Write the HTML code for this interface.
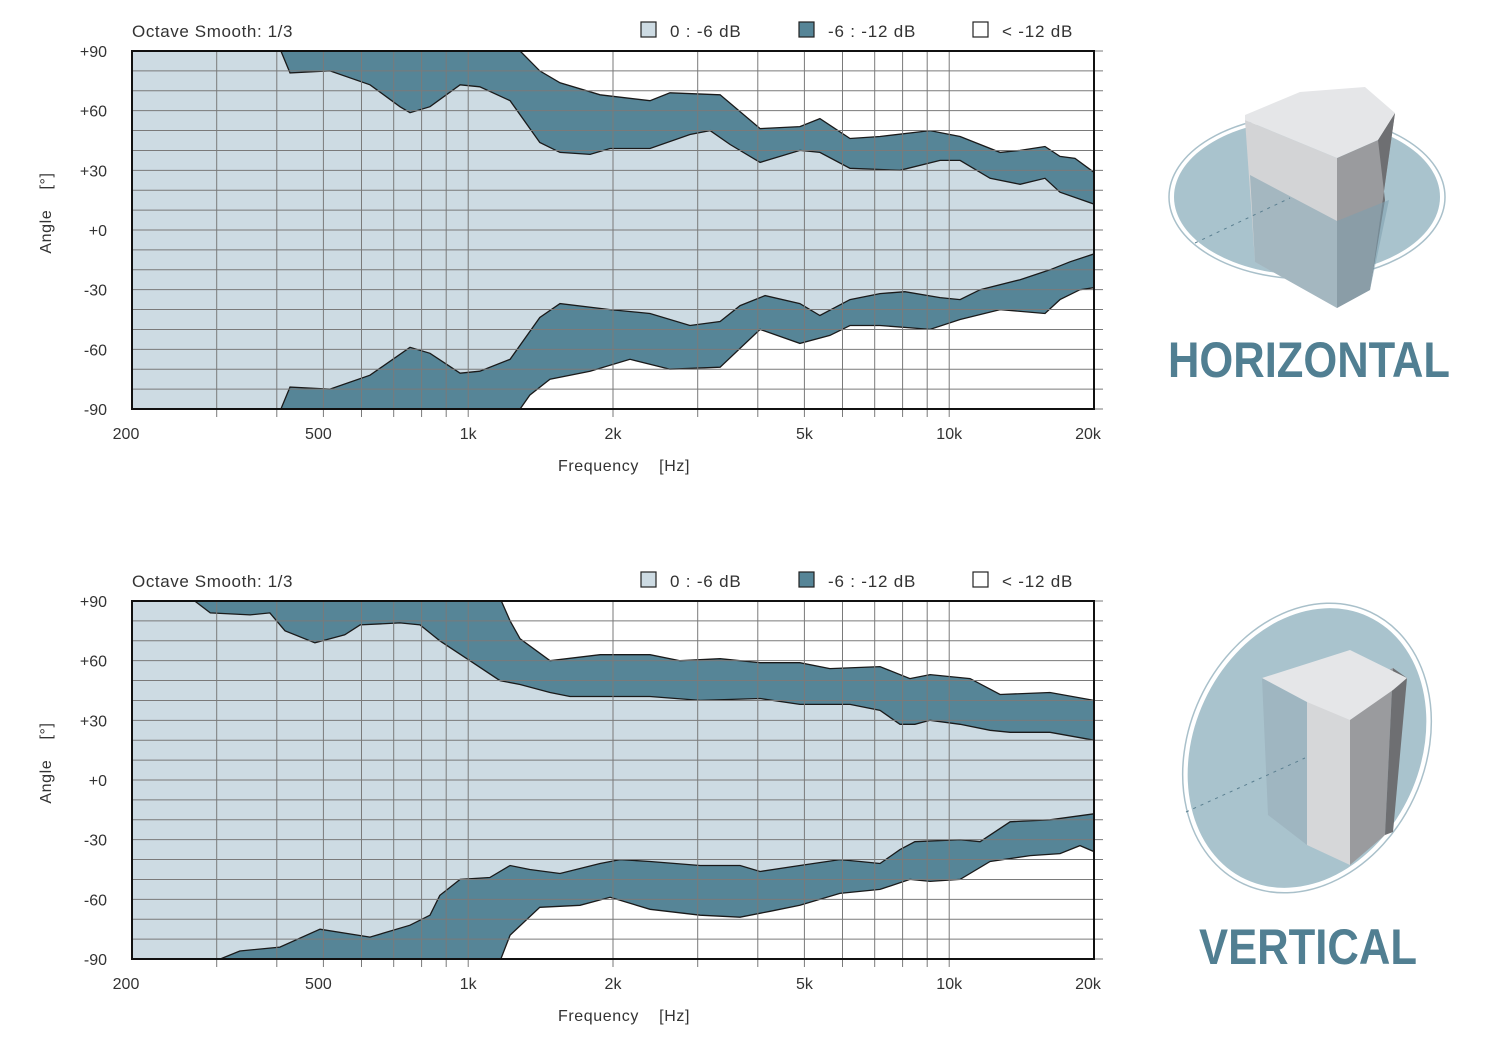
<!DOCTYPE html>
<html><head><meta charset="utf-8"><style>
body{margin:0;background:#fff;}
svg{display:block;font-family:"Liberation Sans",sans-serif;}
.pre{white-space:pre;}
</style></head><body>
<svg id="root" width="1510" height="1061" viewBox="0 0 1510 1061">
<defs>
<clipPath id="clipH"><rect x="132" y="51" width="962" height="358"/></clipPath>
<clipPath id="clipV"><rect x="132" y="601" width="962" height="358"/></clipPath>
</defs>
<g id="chartH"></g>
<g id="chartV"></g>

<g>
<ellipse cx="1307" cy="197" rx="138" ry="82" fill="none" stroke="#a9c0ca" stroke-width="1.5"/>
<ellipse cx="1307" cy="197" rx="133" ry="78" fill="#a9c3cd"/>
<polygon points="1245,120 1337,158 1337,308 1255,262" fill="#d3d4d6"/>
<polygon points="1337,158 1378,140 1395,113 1370,290 1337,308" fill="#9a9b9e"/>
<polygon points="1378,140 1395,113 1370,290 1385,200" fill="#6e6f72"/>
<polygon points="1245,115 1300,92 1365,87 1395,113 1378,140 1337,158 1245,120" fill="#e5e6e8"/>
<path d="M1250,175 L1337,221 L1389,200 L1370,290 L1337,308 L1255,262 Z" fill="#7d9eae" opacity="0.55"/>
<line x1="1195" y1="243" x2="1290" y2="198" stroke="#5a7f90" stroke-dasharray="3,5"/>
</g>
<text x="1168" y="377" font-size="50" font-weight="bold" fill="#517f92" textLength="282" lengthAdjust="spacingAndGlyphs">HORIZONTAL</text>

<g>
<ellipse cx="1307" cy="748" rx="118" ry="150" transform="rotate(25 1307 748)" fill="none" stroke="#a9c0ca" stroke-width="1.5"/>
<ellipse cx="1307" cy="748" rx="113" ry="145" transform="rotate(25 1307 748)" fill="#a9c3cd"/>
<polygon points="1262,678 1307,702 1307,845 1268,815" fill="#9fb6c1"/>
<polygon points="1307,702 1350,690 1350,865 1307,845" fill="#d6d7d9"/>
<polygon points="1350,690 1393,668 1385,835 1350,865" fill="#9a9b9e"/>
<polygon points="1393,668 1407,678 1393,832 1385,835" fill="#6e6f72"/>
<polygon points="1262,678 1350,650 1407,678 1393,690 1350,720 1307,702" fill="#e5e6e8"/>
<line x1="1186" y1="812" x2="1305" y2="758" stroke="#5a7f90" stroke-dasharray="3,5"/>
</g>
<text x="1199" y="964" font-size="50" font-weight="bold" fill="#517f92" textLength="218" lengthAdjust="spacingAndGlyphs">VERTICAL</text>
</svg>
<script>
// Horizontal chart data
const hUoF=[200,400,1222,1282,1409,1552,1880,2388,2628,3339,4044,4894,5386,6218,7179,9124,10534,12760,14044,15818,16995,18260,20000];
const hUoV=[95,95,95,90,80,74,68,65,69,68,51,52,56,46,47,50,47,39,40,42,37,36,29];
const hUiF=[200,400,426,516,625,721,757,833,962,1057,1222,1409,1552,1792,1972,2388,2892,3183,3503,4044,4894,5386,6218,7900,9572,10534,12163,14044,15818,16995,20000];
const hUiV=[95,95,79,80,73,62,59,62,73,72,65,44,39,38,41,41,48,50,43,34,40,39,31,30,35,35,26,23,26,19,13];
const hLiF=[200,400,426,516,625,757,833,962,1057,1222,1409,1552,1972,2388,2892,3339,3675,4143,4894,5386,6218,7179,8090,9572,10534,11594,14044,16200,17829,20000];
const hLiV=[-95,-95,-79,-80,-73,-59,-62,-72,-71,-65,-44,-37,-40,-42,-48,-46,-38,-33,-37,-43,-35,-32,-31,-34,-35,-30,-25,-20,-16,-12];
const hLoF=[200,1222,1282,1343,1479,1792,2170,2628,3339,4044,4894,5650,6218,7179,9124,10534,12760,15818,16995,18705,20000];
const hLoV=[-95,-95,-90,-83,-75,-71,-65,-70,-69,-50,-57,-53,-48,-48,-50,-45,-40,-42,-35,-30,-29];
// Vertical chart data
const vUoF=[200,1148,1222,1282,1479,1880,2388,2757,3339,4044,4894,5650,7179,8286,9124,11051,12760,16200,20000];
const vUoV=[95,95,80,71,60,63,63,60,61,59,59,56,57,51,53,51,43,44,40];
const vUiF=[200,270,291,352,387,416,480,554,596,721,794,873,1008,1164,1282,1479,1628,2388,3034,4044,4894,6218,7179,7900,8487,9124,10534,12163,13386,16200,20000];
const vUiV=[95,90,84,83,84,75,69,73,78,79,78,70,60,50,48,44,42,42,40,41,38,38,35,28,28,30,28,25,24,24,20];
const vLiF=[200,305,335,406,492,625,757,833,873,962,1109,1222,1343,1552,1880,2069,2388,3034,3675,4044,4894,5927,6523,7179,7900,8487,10534,11594,13386,16200,20000];
const vLiV=[-95,-90,-86,-84,-75,-79,-73,-68,-58,-50,-49,-43,-45,-47,-42,-40,-41,-43,-43,-46,-43,-40,-41,-42,-35,-31,-30,-31,-21,-20,-17];
const vLoF=[200,1148,1222,1409,1708,1972,2388,3034,3675,4242,4894,5927,7179,8286,9124,10534,12163,14733,16995,18705,20000];
const vLoV=[-95,-95,-78,-64,-63,-59,-65,-68,-69,-66,-63,-57,-55,-50,-51,-50,-41,-38,-37,-33,-36];

const yTicks=[90,60,30,0,-30,-60,-90];
const yTickLabels=["+90","+60","+30","+0","-30","-60","-90"];
const xTicks=[200,500,1000,2000,5000,10000,20000];
const xTickLabels=["200","500","1k","2k","5k","10k","20k"];
const gridF=[300,400,500,600,700,800,900,1000,2000,3000,4000,5000,6000,7000,8000,9000,10000];

const NS="http://www.w3.org/2000/svg";
const X0=132,X1=1094;
function xs(f){return X0+(X1-X0)*Math.log10(f/200)/2;}
function mk(parent,tag,attrs){const e=document.createElementNS(NS,tag);for(const k in attrs)e.setAttribute(k,attrs[k]);parent.appendChild(e);return e;}
function pts(F,V,ys){return F.map((f,i)=>xs(f).toFixed(1)+","+ys(V[i]).toFixed(1));}
function rev(a){return a.slice().reverse();}

function drawChart(g,top,clip,UoF,UoV,UiF,UiV,LiF,LiV,LoF,LoV){
  const bot=top+358;
  const ys=v=>top+(90-v)*358/180;
  const plot=mk(g,'g',{'clip-path':'url(#'+clip+')'});
  const bg=mk(plot,'rect',{x:X0,y:top,width:X1-X0,height:358,fill:'#fff'});
  
  
  const dark=mk(plot,'polygon',{points:pts(UoF,UoV,ys).concat(rev(pts(LoF,LoV,ys))).join(' '),fill:'#568597'});
  
  
  const light=mk(plot,'polygon',{points:pts(UiF,UiV,ys).concat(rev(pts(LiF,LiV,ys))).join(' '),fill:'#cddbe3'});
  
  
  [[UoF,UoV,'upper-12db-line'],[UiF,UiV,'upper-6db-line'],[LiF,LiV,'lower-6db-line'],[LoF,LoV,'lower-12db-line']].forEach(s=>{
    const l=mk(plot,'polyline',{points:pts(s[0],s[1],ys).join(' '),fill:'none',stroke:'#1a1a1a','stroke-width':1.3});
    
    
  });
  for(let v=-80;v<=80;v+=10){
    const gl=mk(g,'line',{x1:X0,x2:1103,y1:ys(v),y2:ys(v),stroke:'#7a7a7a','stroke-width':1});
    
    
  }
  mk(g,'line',{x1:X1,x2:1103,y1:top,y2:top,stroke:'#7a7a7a'});
  mk(g,'line',{x1:X1,x2:1103,y1:bot,y2:bot,stroke:'#7a7a7a'});
  gridF.forEach(f=>{
    const gl=mk(g,'line',{x1:xs(f),x2:xs(f),y1:top,y2:bot+8,stroke:'#7a7a7a','stroke-width':1});
    
    
  });
  const frame=mk(g,'rect',{x:X0,y:top,width:X1-X0,height:358,fill:'none',stroke:'#111','stroke-width':2});
  
  
  yTicks.forEach((v,i)=>{
    const t=mk(g,'text',{x:107,y:ys(v)+6,'text-anchor':'end','font-size':16,fill:'#333'});
    t.textContent=yTickLabels[i];
    
    
  });
  xTicks.forEach((f,i)=>{
    const t=mk(g,'text',{x:xs(f)+(i==0?-6:i==6?-6:i==1?-5:0),y:bot+30,'text-anchor':'middle','font-size':16,fill:'#333'});
    t.textContent=xTickLabels[i];
    
    
  });
  const xt=mk(g,'text',{x:624,y:bot+62,'text-anchor':'middle','font-size':16,fill:'#333','letter-spacing':0.6,'class':'pre'});
  xt.textContent='Frequency    [Hz]';
  
  
  const yt=mk(g,'text',{x:0,y:0,'text-anchor':'middle','font-size':16,fill:'#333','letter-spacing':0.6,'class':'pre',transform:'translate(51,'+(top+162)+') rotate(-90)'});
  yt.textContent='Angle    [°]';
  
  
  const os=mk(g,'text',{x:132,y:top-14,'font-size':17,fill:'#333','letter-spacing':0.6});
  os.textContent='Octave Smooth: 1/3';
  
  
  [[641,'#cddbe3','0 : -6 dB'],[799,'#568597','-6 : -12 dB'],[973,'#fff','< -12 dB']].forEach(L=>{
    const lg=mk(g,'g',{});
    
    
    mk(lg,'rect',{x:L[0],y:top-29,width:15,height:15,fill:L[1],stroke:'#222','stroke-width':1.2});
    const t=mk(lg,'text',{x:L[0]+29,y:top-14,'font-size':17,fill:'#333','letter-spacing':0.8});
    t.textContent=L[2];
  });
}
drawChart(document.getElementById('chartH'),51,'clipH',hUoF,hUoV,hUiF,hUiV,hLiF,hLiV,hLoF,hLoV);
drawChart(document.getElementById('chartV'),601,'clipV',vUoF,vUoV,vUiF,vUiV,vLiF,vLiV,vLoF,vLoV);
</script>
</body></html>
